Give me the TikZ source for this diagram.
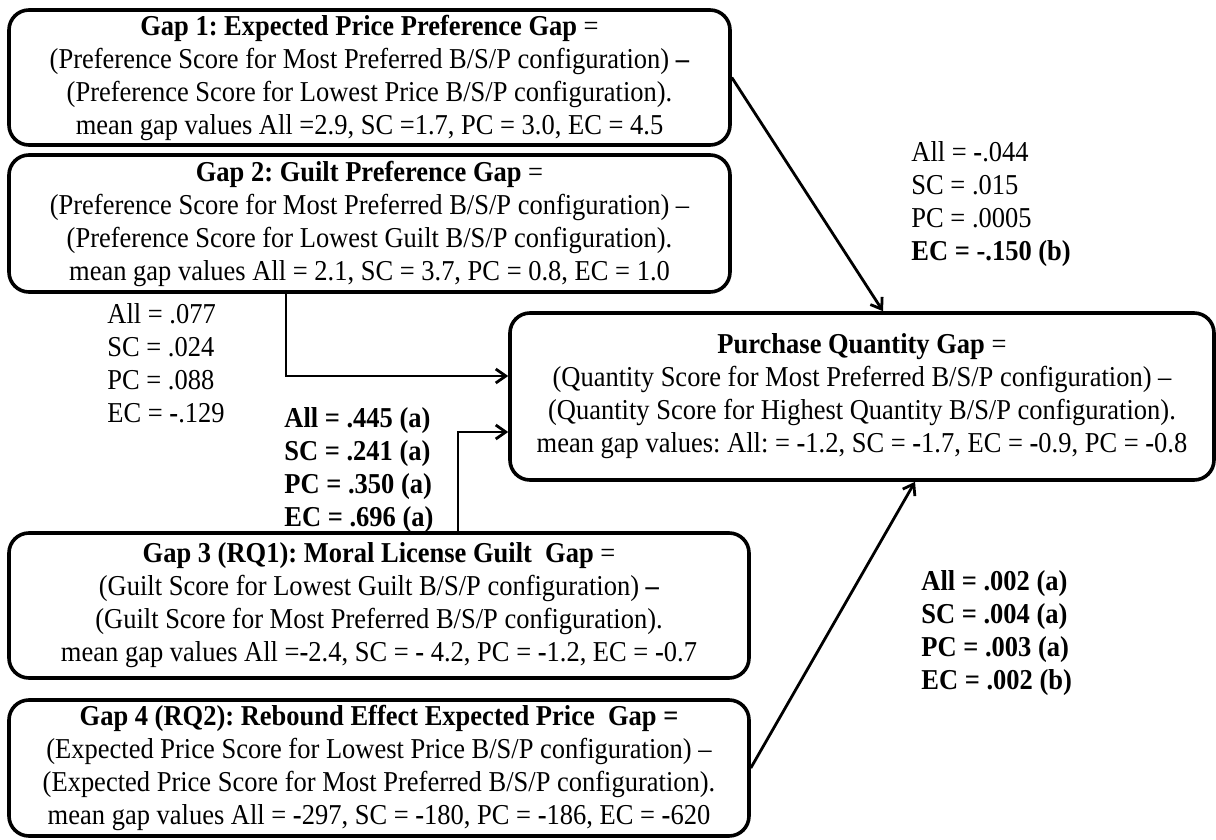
\documentclass[tikz,border=0pt]{standalone}
\usepackage{fontspec}
\setmainfont{Liberation Serif}[FakeStretch=0.92]
\usetikzlibrary{arrows.meta}

\newcommand\gapfont{\fontsize{14.4}{16.5}\selectfont\frenchspacing}
\newcommand\mns{\textbf{-}}

\begin{document}
\begin{tikzpicture}[x=0.5pt,y=-0.5pt,
  gapbox/.style={draw,line width=1.8pt,rounded corners=10pt,align=center,inner sep=0pt,font=\gapfont},
  vals/.style={anchor=west,align=left,inner sep=0pt,font=\gapfont},
  link/.style={line width=1.4pt,-{Straight Barb[length=5pt,width=7pt]}}]
\useasboundingbox (0,0) rectangle (1216,840);

% Gap boxes
\node[gapbox,minimum width=360.5pt,minimum height=67.5pt] (gapone) at (369.5,77.5)
  {\textbf{Gap 1: Expected Price Preference Gap} =\\
   (Preference Score for Most Preferred B/S/P configuration) \textbf{--}\\
   (Preference Score for Lowest Price B/S/P configuration).\\
   mean gap values All =2.9, SC =1.7, PC = 3.0, EC = 4.5};
\node[gapbox,minimum width=360.5pt,minimum height=68.5pt] (gaptwo) at (369.5,223.5)
  {\textbf{Gap 2: Guilt Preference Gap} =\\
   (Preference Score for Most Preferred B/S/P configuration) --\\
   (Preference Score for Lowest Guilt B/S/P configuration).\\
   mean gap values All = 2.1, SC = 3.7, PC = 0.8, EC = 1.0};
\node[gapbox,minimum width=370pt,minimum height=72.5pt] (gapthree) at (379,605.5)
  {\textbf{Gap 3 (RQ1): Moral License Guilt\ \ Gap} =\\
   (Guilt Score for Lowest Guilt B/S/P configuration) \textbf{--}\\
   (Guilt Score for Most Preferred B/S/P configuration).\\
   mean gap values All =\mns2.4, SC = \mns\ 4.2, PC = \mns1.2, EC = \mns0.7};
\node[gapbox,minimum width=370pt,minimum height=68pt] (gapfour) at (379,768)
  {\textbf{Gap 4 (RQ2): Rebound Effect Expected Price\ \ Gap =}\\
   (Expected Price Score for Lowest Price B/S/P configuration) --\\
   (Expected Price Score for Most Preferred B/S/P configuration).\\
   mean gap values All = \mns297, SC = \mns180, PC = \mns186, EC = \mns620};

% Outcome
\node[gapbox,minimum width=352pt,minimum height=83.5pt] (purchase) at (862,396.5)
  {\textbf{Purchase Quantity Gap} =\\
   (Quantity Score for Most Preferred B/S/P configuration) --\\
   (Quantity Score for Highest Quantity B/S/P configuration).\\
   mean gap values: All: = \mns1.2, SC = \mns1.7, EC = \mns0.9, PC = \mns0.8};

%% Values %%
\node[vals] (fitone) at (911,204)
  {All = \mns.044\\ SC = .015\\ PC = .0005\\ \textbf{EC = -.150 (b)}};
\node[vals] (fittwo) at (107,363)
  {All = .077\\ SC = .024\\ PC = .088\\ EC = \mns.129};
\node[vals,font=\gapfont\bfseries] (fitthree) at (284,470)
  {All = .445 (a)\\ SC = .241 (a)\\ PC = .350 (a)\\ EC = .696 (a)};
\node[vals,font=\gapfont\bfseries] (fitfour) at (921,633)
  {All = .002 (a)\\ SC = .004 (a)\\ PC = .003 (a)\\ EC = .002 (b)};

% Arrows
\draw[link] (gapone.east) -- (purchase.north -| 883,0);
\draw[link] (gaptwo.south -| 286,0) |- ([yshift=10.25pt]purchase.west);
\draw[link] (gapthree.north -| 458,0) |- ([yshift=-17.75pt]purchase.west);
\draw[link] (gapfour.east) -- (purchase.south -| 915,0);
\end{tikzpicture}
\end{document}
